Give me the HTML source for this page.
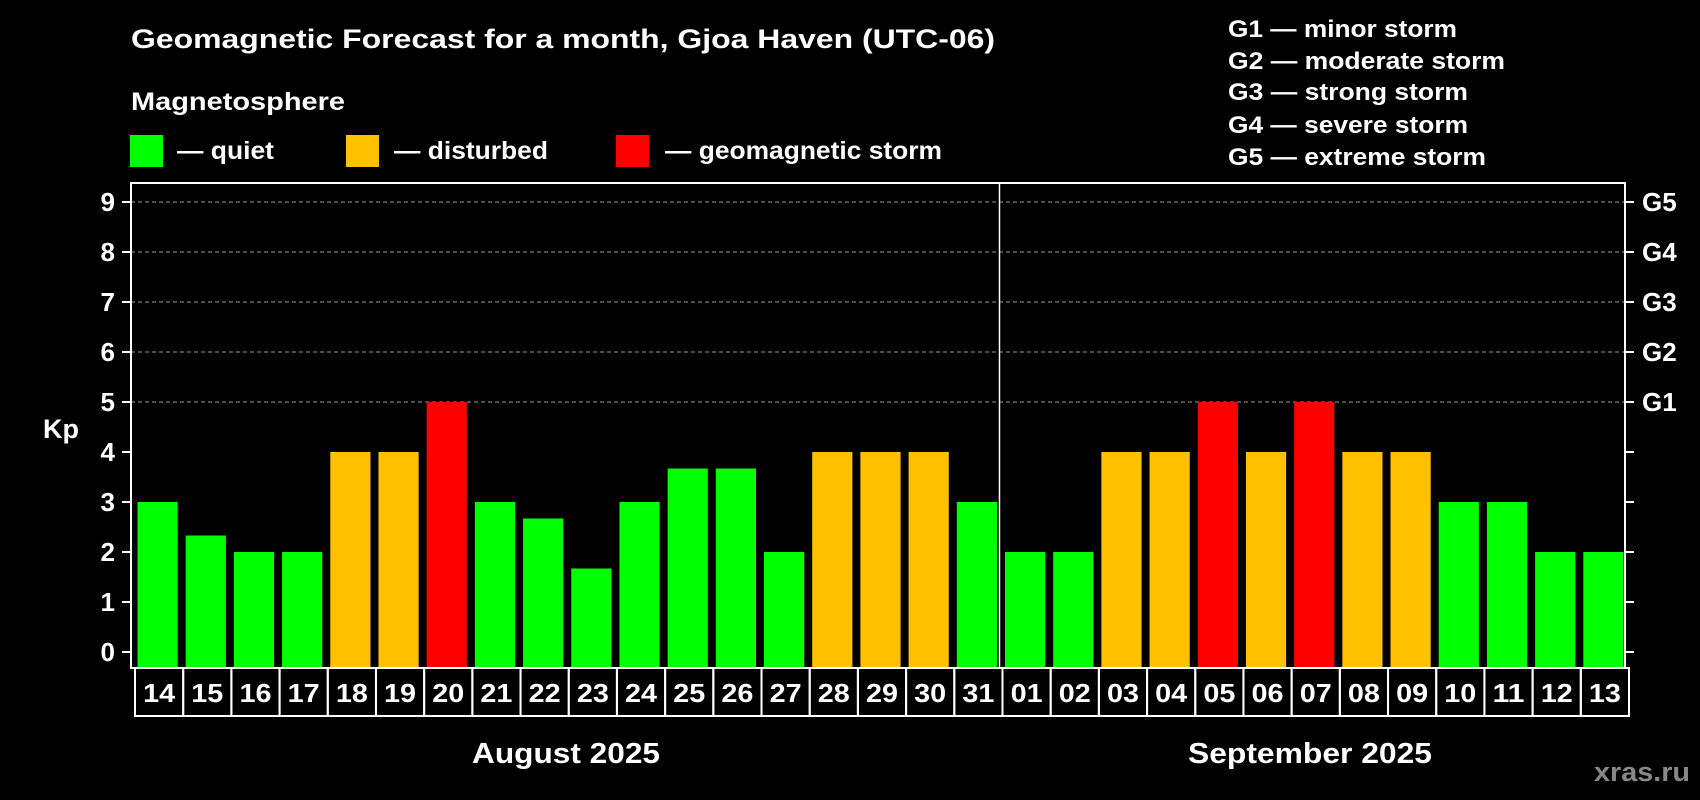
<!DOCTYPE html>
<html><head><meta charset="utf-8"><style>
html,body{margin:0;padding:0;background:#000;}
svg{display:block;font-family:"Liberation Sans",Arial,sans-serif;font-weight:bold;}
</style></head><body>
<svg id="chart" width="1700" height="800" viewBox="0 0 1700 800">
<text x="131" y="48" fill="#fff" font-size="27" textLength="864" lengthAdjust="spacingAndGlyphs">Geomagnetic Forecast for a month, Gjoa Haven (UTC-06)</text>
<text x="131" y="110" fill="#fff" font-size="25" textLength="214" lengthAdjust="spacingAndGlyphs">Magnetosphere</text>
<g><rect x="130" y="135" width="33" height="32" fill="#00ff00"/><text x="177" y="159" fill="#fff" font-size="25" textLength="97" lengthAdjust="spacingAndGlyphs">— quiet</text></g>
<g><rect x="346" y="135" width="33" height="32" fill="#ffc000"/><text x="394" y="159" fill="#fff" font-size="25" textLength="154" lengthAdjust="spacingAndGlyphs">— disturbed</text></g>
<g><rect x="616" y="135" width="33" height="32" fill="#ff0000"/><text x="665" y="159" fill="#fff" font-size="25" textLength="277" lengthAdjust="spacingAndGlyphs">— geomagnetic storm</text></g>
<g fill="#fff" font-size="24">
<text x="1228" y="37" textLength="229" lengthAdjust="spacingAndGlyphs">G1 — minor storm</text>
<text x="1228" y="69" textLength="277" lengthAdjust="spacingAndGlyphs">G2 — moderate storm</text>
<text x="1228" y="100" textLength="240" lengthAdjust="spacingAndGlyphs">G3 — strong storm</text>
<text x="1228" y="133" textLength="240" lengthAdjust="spacingAndGlyphs">G4 — severe storm</text>
<text x="1228" y="165" textLength="258" lengthAdjust="spacingAndGlyphs">G5 — extreme storm</text>
</g>
<text x="43" y="438" fill="#fff" font-size="27">Kp</text>
<g id="plot"></g>
<text x="566" y="763" fill="#fff" font-size="29" text-anchor="middle" textLength="188" lengthAdjust="spacingAndGlyphs">August 2025</text>
<text x="1310" y="763" fill="#fff" font-size="29" text-anchor="middle" textLength="244" lengthAdjust="spacingAndGlyphs">September 2025</text>
<text x="1594" y="781" fill="#888" font-size="27" textLength="96" lengthAdjust="spacingAndGlyphs">xras.ru</text>
</svg>
<script>
const days = ["14","15","16","17","18","19","20","21","22","23","24","25","26","27","28","29","30","31","01","02","03","04","05","06","07","08","09","10","11","12","13"];
const kpValues = [3,2.33,2,2,4,4,5,3,2.67,1.67,3,3.67,3.67,2,4,4,4,3,2,2,4,4,5,4,5,4,4,3,3,2,2];
const yTicks = [0,1,2,3,4,5,6,7,8,9];
const gLabels = ["G1","G2","G3","G4","G5"];
const gLevels = [5,6,7,8,9];

const NS = "http://www.w3.org/2000/svg";
const plot = document.getElementById("plot");
const L = 131, R = 1625, T = 183, B = 668;
const slot = (R - L) / days.length;
function xScale(i){ return L + i * slot; }
function yScale(v){ return 652 - v * 50; }
function mk(tag, attrs){ const e = document.createElementNS(NS, tag); for (const k in attrs) e.setAttribute(k, attrs[k]); plot.appendChild(e); return e; }
function colorFor(v){ return v >= 5 ? "#ff0000" : (v >= 4 ? "#ffc000" : "#00ff00"); }

yTicks.forEach(t => {
  const y = yScale(t);
  if (t >= 5) {
    const g = mk("line", {x1:L, x2:R, y1:y, y2:y, stroke:"#999", "stroke-width":1, "stroke-dasharray":"4,3"});
    
    
  }
  const tl = mk("line", {x1:L-9, x2:L, y1:y, y2:y, stroke:"#fff", "stroke-width":2});
  
  
  const tr = mk("line", {x1:R, x2:R+9, y1:y, y2:y, stroke:"#fff", "stroke-width":2});
  
  
  const lb = mk("text", {x:L-16, y:y+9, fill:"#fff", "font-size":26, "text-anchor":"end"});
  lb.textContent = t;
  
  
});
gLabels.forEach((g, i) => {
  const t = mk("text", {x:R+17, y:yScale(gLevels[i])+9, fill:"#fff", "font-size":26});
  t.textContent = g;
  
  
});
kpValues.forEach((v, i) => {
  const x = xScale(i);
  const b = mk("rect", {x:x+6.5, y:yScale(v), width:slot-6.5-1.5, height:B-1-yScale(v), fill:colorFor(v)});
  
  
  const box = mk("rect", {x:x+4, y:B, width:slot, height:48, fill:"none", stroke:"#fff", "stroke-width":2});
  
  
  const t = mk("text", {x:x+4+slot/2, y:B+34, fill:"#fff", "font-size":26, "text-anchor":"middle", textLength:32, lengthAdjust:"spacingAndGlyphs"});
  t.textContent = days[i];
  
  
});
const frame = mk("rect", {x:L, y:T, width:R-L, height:B-T, fill:"none", stroke:"#fff", "stroke-width":2});


const split = days.indexOf("01");
const dv = mk("line", {x1:xScale(split)+1, x2:xScale(split)+1, y1:T, y2:B, stroke:"#fff", "stroke-width":1.5});


</script>
</body></html>
